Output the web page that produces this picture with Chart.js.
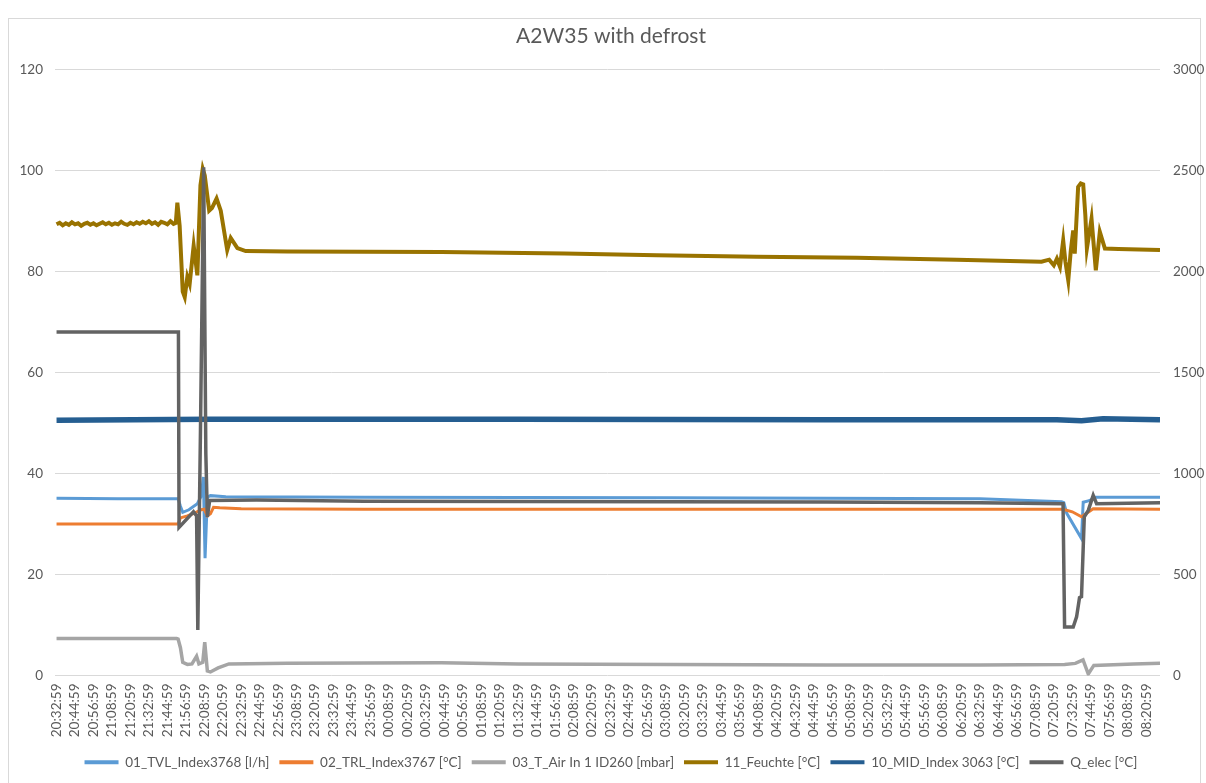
<!DOCTYPE html>
<html>
<head>
<meta charset="utf-8">
<script src="https://cdn.jsdelivr.net/npm/chart.js@4.4.1/dist/chart.umd.min.js"></script>
<style>
  html, body { margin: 0; padding: 0; background: #ffffff; }
  #frame { position: absolute; left: 8px; top: 18px; width: 1193px; height: 800px; border: 1px solid #d9d9d9; box-sizing: border-box; }
  #wrap { position: absolute; left: 0; top: 0; width: 1206px; height: 783px; }
</style>
</head>
<body>
<div id="frame"></div>
<div id="wrap"><canvas id="c" width="1206" height="783"></canvas></div>
<script>
// Tick labels (every 12 minutes)
const tickLabels = [
  "20:32:59","20:44:59","20:56:59","21:08:59","21:20:59","21:32:59","21:44:59","21:56:59",
  "22:08:59","22:20:59","22:32:59","22:44:59","22:56:59","23:08:59","23:20:59","23:32:59",
  "23:44:59","23:56:59","00:08:59","00:20:59","00:32:59","00:44:59","00:56:59","01:08:59",
  "01:20:59","01:32:59","01:44:59","01:56:59","02:08:59","02:20:59","02:32:59","02:44:59",
  "02:56:59","03:08:59","03:20:59","03:32:59","03:44:59","03:56:59","04:08:59","04:20:59",
  "04:32:59","04:44:59","04:56:59","05:08:59","05:20:59","05:32:59","05:44:59","05:56:59",
  "06:08:59","06:20:59","06:32:59","06:44:59","06:56:59","07:08:59","07:20:59","07:32:59",
  "07:44:59","07:56:59","08:08:59","08:20:59"
];

// Series: [minutes after 20:32:59, value]
const tvl = [[0,35.1],[40,35.0],[79,35.0],[80.5,33.5],[82,32.3],[86,32.8],[91.5,34.0],[94,35.5],[95.4,39.3],[96.5,23.2],[98,35.3],[100,35.6],[110,35.4],[200,35.3],[400,35.2],[600,35.0],[653,34.4],[654.5,34.2],[656.4,32.1],[666,27.1],[667.1,34.3],[671,34.6],[675,35.3],[717,35.3]];
const trl = [[0,30.0],[79,30.0],[80.5,31.2],[85,31.6],[90,32.2],[94,32.8],[96,32.9],[98,31.6],[100,32.0],[102,33.3],[106,33.2],[120,33.0],[200,32.9],[400,32.9],[600,32.9],[654,32.9],[660,32.4],[666,31.4],[673.6,33.0],[717,32.9]];
const tAir = [[0,7.3],[78,7.3],[79,7.2],[80.5,5.5],[82,2.6],[85,2.2],[88,2.3],[91,3.8],[92.5,2.3],[95,2.6],[96.3,6.6],[98,0.9],[100,0.7],[105,1.5],[112,2.3],[150,2.4],[250,2.5],[300,2.3],[400,2.2],[500,2.1],[600,2.1],[655,2.2],[662,2.4],[667,3.1],[670.4,0.3],[674,2.0],[700,2.3],[717,2.4]];
const feuchte = [[0,89.3],[2,89.6],[4,89.1],[6,89.5],[8,89.2],[10,89.7],[12,89.3],[14,89.5],[16,89.0],[18,89.4],[20,89.6],[22,89.2],[24,89.5],[26,89.1],[28,89.4],[30,89.7],[32,89.3],[34,89.6],[36,89.2],[38,89.5],[40,89.3],[42,89.8],[44,89.4],[46,89.2],[48,89.6],[50,89.3],[52,89.7],[54,89.4],[56,89.8],[58,89.5],[60,89.9],[62,89.4],[64,89.7],[66,89.2],[68,89.8],[70,89.6],[72,89.3],[74,89.9],[76,89.4],[77.5,89.6],[78.5,93.6],[80,89.0],[82,76.0],[83.3,74.9],[85,78.9],[86.5,77.5],[89.1,85.1],[91.5,79.2],[93.5,97.0],[95,100.3],[96.3,99.0],[99.2,92.0],[101,92.5],[104,94.4],[106.7,92.0],[110.9,84.2],[113.2,86.6],[117.5,84.6],[122.9,84.0],[150,83.9],[250,83.8],[330,83.5],[390,83.2],[455,82.9],[520,82.7],[585,82.3],[640,81.9],[645,82.3],[648,81.2],[650,82.5],[652,80.9],[654.1,86.1],[655.5,82.0],[657.4,78.2],[659,84.0],[660.6,88.1],[661.6,83.5],[663.8,96.7],[665.5,97.4],[667.1,97.2],[668.5,91.0],[669.5,84.5],[672.5,90.4],[675.3,80.2],[677.9,87.8],[681.2,84.5],[690,84.4],[717,84.2]];
const mid = [[0,50.5],[100,50.7],[300,50.7],[500,50.6],[650,50.6],[666,50.4],[680,50.8],[717,50.6]];
const qElec = [[0,1700],[79.2,1700],[79.6,733],[89,810],[91,790],[91.8,225],[93.5,1200],[95.6,2515],[97,1100],[98,784],[99.5,866],[130,868],[200,862],[400,860],[500,858],[600,855],[654,850],[655,240],[660.6,240],[662.8,290],[664.7,385],[666,390],[667.8,785],[670.4,817],[673.6,891],[675.8,850],[717,855]];

const names = ["01_TVL_Index3768 [l/h]","02_TRL_Index3767 [°C]","03_T_Air In 1 ID260 [mbar]","11_Feuchte [°C]","10_MID_Index 3063 [°C]","Q_elec [°C]"];
const colors = ["#5B9BD5","#ED7D31","#A5A5A5","#997300","#255E91","#636363"];

const toXY = arr => arr.map(p => ({x: p[0], y: p[1]}));
const seriesList = [tvl, trl, tAir, feuchte, mid, qElec];
const widths = [3, 3, 3.5, 4, 5.5, 3.5];
const FONT = "Lato, 'Open Sans', sans-serif";
const TXT = "#595959";

const datasets = seriesList.map((s, i) => ({
  label: names[i],
  data: toXY(s),
  borderColor: colors[i],
  backgroundColor: colors[i],
  borderWidth: widths[i],
  pointRadius: 0,
  tension: 0,
  fill: false,
  order: 6 - i,
  yAxisID: i === 5 ? 'y2' : 'y'
}));

new Chart(document.getElementById('c'), {
  type: 'line',
  data: { datasets },
  options: {
    responsive: false,
    animation: false,
    events: [],
    layout: { padding: { top: 18, left: 16, right: 0, bottom: 4 } },
    plugins: {
      tooltip: { enabled: false },
      title: {
        display: true,
        text: "A2W35 with defrost",
        color: TXT,
        font: { family: FONT, size: 21, weight: 'normal' },
        padding: { top: 6, bottom: 20 }
      },
      legend: {
        position: 'bottom',
        labels: {
          color: TXT,
          font: { family: FONT, size: 13.5 },
          boxWidth: 34,
          boxHeight: 4,
          padding: 10,
          sort: (a, b) => a.datasetIndex - b.datasetIndex,
          generateLabels: (chart) => Chart.defaults.plugins.legend.labels.generateLabels(chart).map(it => Object.assign(it, { lineWidth: 0, fillStyle: colors[it.datasetIndex], strokeStyle: colors[it.datasetIndex] }))
        }
      }
    },
    scales: {
      x: {
        type: 'linear',
        min: -1,
        max: 717,
        grid: { display: false, drawTicks: false },
        border: { display: false },
        afterBuildTicks: (scale) => { scale.ticks = tickLabels.map((_, i) => ({ value: i * 12 })); },
        afterFit: (scale) => { scale.height = 70; },
        ticks: {
          autoSkip: false,
          minRotation: 90,
          maxRotation: 90,
          padding: 8,
          color: TXT,
          font: { family: FONT, size: 13.5 },
          callback: (v) => tickLabels[Math.round(v / 12)]
        }
      },
      y: {
        position: 'left',
        min: 0, max: 120,
        ticks: { stepSize: 20, color: TXT, padding: 12, font: { family: FONT, size: 13.5 }, callback: (v) => String(v) },
        grid: { color: '#d9d9d9', lineWidth: 1, drawTicks: false },
        border: { display: false },
        afterFit: (scale) => { scale.width = 39; }
      },
      y2: {
        position: 'right',
        min: 0, max: 3000,
        ticks: { stepSize: 500, color: TXT, padding: 13, font: { family: FONT, size: 13.5 }, callback: (v) => String(v) },
        grid: { display: false, drawTicks: false },
        border: { display: false },
        afterFit: (scale) => { scale.width = 46; }
      }
    }
  }
});
</script>
</body>
</html>
